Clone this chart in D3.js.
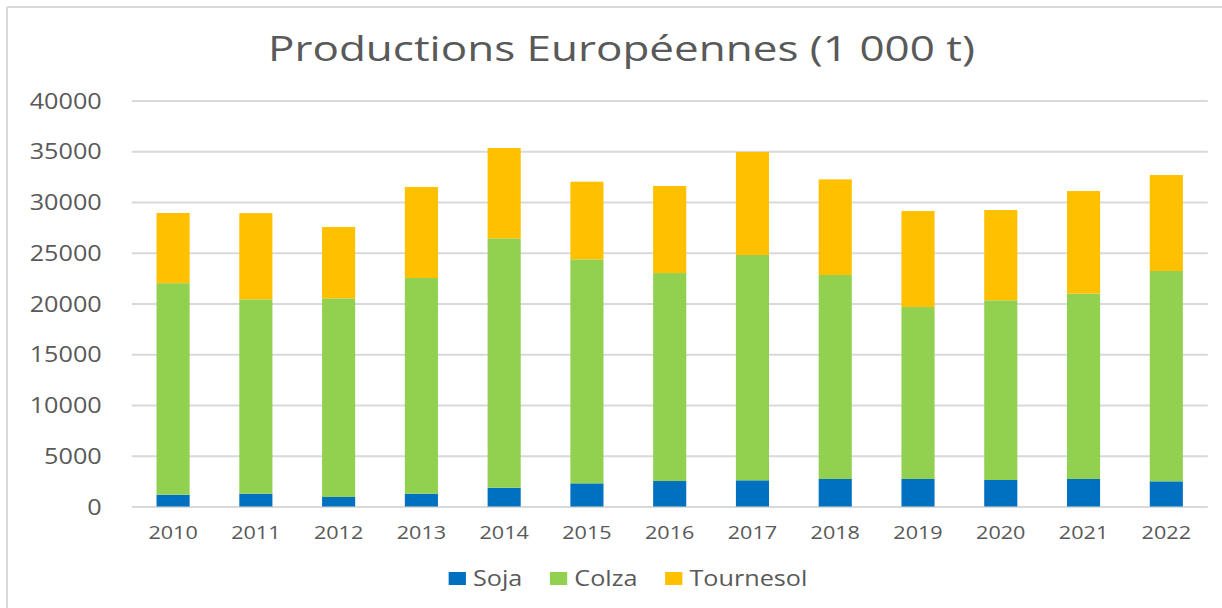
<!DOCTYPE html>
<html>
<head>
<meta charset="utf-8">
<script src="https://cdn.jsdelivr.net/npm/d3@7"></script>
<style>
  html, body { margin: 0; padding: 0; background: #fff; }
  svg { display: block; }
  text { font-family: "Open Sans", "DejaVu Sans", sans-serif; fill: #595959; }
</style>
</head>
<body>
<svg id="chart"></svg>
<script>
var years = ["2010", "2011", "2012", "2013", "2014", "2015", "2016", "2017", "2018", "2019", "2020", "2021", "2022"];
var soja = [1160, 1260, 940, 1260, 1850, 2280, 2510, 2580, 2710, 2710, 2610, 2710, 2480];
var colza = [20840, 19150, 19570, 21250, 24570, 22070, 20490, 22200, 20100, 16940, 17710, 18260, 20720];
var tournesol = [6920, 8490, 7030, 8970, 8900, 7650, 8580, 10150, 9420, 9460, 8890, 10110, 9460];
var seriesNames = ["Soja", "Colza", "Tournesol"];
var yTicks = [0, 5000, 10000, 15000, 20000, 25000, 30000, 35000, 40000];

// the original picture is stretched horizontally, so draw narrow and stretch with the viewBox
var sx = 1.2;
var width = 1222, height = 608;
var vw = width / sx;

var svg = d3.select("#chart")
            .attr("width", width)
            .attr("height", height)
            .attr("viewBox", "0 0 " + vw + " " + height)
            .attr("preserveAspectRatio", "none");

var plotLeft = 131.7 / sx, plotRight = 1207.7 / sx;
var plotTop = 100.5, plotBottom = 506.5;

var rows = years.map(function(y, i) {
  return { year: y, Soja: soja[i], Colza: colza[i], Tournesol: tournesol[i] };
});

var stack = d3.stack().keys(seriesNames);
var layers = stack(rows);

var x = d3.scaleBand()
          .domain(years)
          .range([plotLeft, plotRight])
          .paddingInner(0.6)
          .paddingOuter(0.3);

var y = d3.scaleLinear()
          .domain([0, 40000])
          .range([plotBottom, plotTop]);

var color = d3.scaleOrdinal()
              .domain(seriesNames)
              .range(["#0070C0", "#92D050", "#FFC000"]);

// frame (only top and left edges are visible in the crop)
svg.append("line")
   .attr("x1", 7 / sx).attr("x2", vw)
   .attr("y1", 7).attr("y2", 7)
   .attr("stroke", "#d9d9d9").attr("stroke-width", 2);
svg.append("line")
   .attr("x1", 7 / sx).attr("x2", 7 / sx)
   .attr("y1", 7).attr("y2", height)
   .attr("stroke", "#d9d9d9").attr("stroke-width", 2 / sx);

svg.append("text")
   .attr("x", 621.5 / sx)
   .attr("y", 61)
   .attr("text-anchor", "middle")
   .attr("font-size", 34)
   .attr("textLength", 707 / sx)
   .attr("lengthAdjust", "spacingAndGlyphs")
   .text("Productions Européennes (1 000 t)");

var yAxis = svg.append("g")
               .attr("transform", "translate(" + plotLeft + ",0)")
               .call(d3.axisLeft(y)
                       .tickValues(yTicks)
                       .tickFormat(d3.format("d"))
                       .tickSize(-(plotRight - plotLeft))
                       .tickPadding(25));
yAxis.select(".domain").remove();
yAxis.selectAll("line").attr("stroke", "#d9d9d9").attr("stroke-width", 2);
yAxis.selectAll("text")
     .attr("font-size", 21)
     .attr("dy", "0.36em")
     .style("fill", "#595959");

var xAxis = svg.append("g")
               .attr("transform", "translate(0," + plotBottom + ")")
               .call(d3.axisBottom(x).tickSize(0).tickPadding(20));
xAxis.select(".domain").remove();
xAxis.selectAll("text")
     .attr("font-size", 18)
     .style("fill", "#595959");

svg.append("g")
   .selectAll("g")
   .data(layers)
   .enter()
   .append("g")
   .attr("fill", function(d) { return color(d.key); })
   .selectAll("rect")
   .data(function(d) { return d; })
   .enter()
   .append("rect")
   .attr("x", function(d) { return x(d.data.year); })
   .attr("width", x.bandwidth())
   .attr("y", function(d) { return y(d[1]); })
   .attr("height", function(d) { return y(d[0]) - y(d[1]); });

// legend, laid out from measured text widths and centred
var legend = svg.append("g");
var items = legend.selectAll("g")
                  .data(seriesNames)
                  .enter()
                  .append("g");
items.append("rect")
     .attr("y", 572)
     .attr("width", 14.4)
     .attr("height", 13)
     .attr("fill", function(d) { return color(d); });
items.append("text")
     .attr("x", 20.3)
     .attr("y", 586)
     .attr("font-size", 21)
     .text(function(d) { return d; });

var pos = 0;
items.each(function() {
  var g = d3.select(this);
  var w = 20.3 + g.select("text").node().getComputedTextLength();
  g.attr("transform", "translate(" + pos + ",0)");
  pos += w + 23;
});
var total = pos - 23;
legend.attr("transform", "translate(" + (628 / sx - total / 2) + ",0)");
</script>
</body>
</html>
